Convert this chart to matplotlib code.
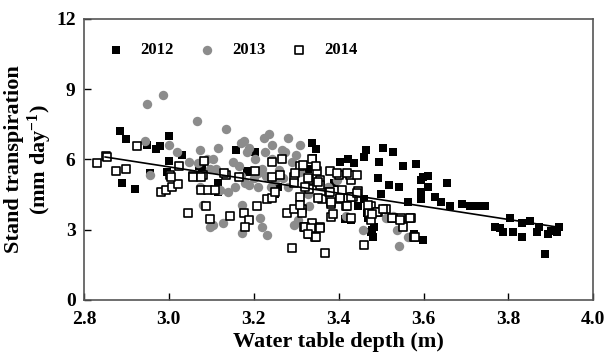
import numpy as np
import matplotlib
matplotlib.use('Agg')
import matplotlib.pyplot as plt

# Stand transpiration vs water table depth, three seasons
x_2012 = [2.884, 2.90, 2.948, 2.97, 2.98, 3.00, 3.00, 3.03, 2.89, 2.92, 2.955, 2.995, 3.07,
          3.159, 3.204, 3.078, 3.117, 3.117, 3.11, 3.185, 3.192, 3.257, 3.25,
          3.337, 3.346, 3.339, 3.327, 3.402, 3.421, 3.437, 3.39,
          3.465, 3.505, 3.528, 3.46, 3.495, 3.551, 3.582, 3.493, 3.598, 3.61,
          3.519, 3.542, 3.593, 3.61, 3.593, 3.656, 3.5, 3.46, 3.563, 3.593, 3.628, 3.64,
          3.663, 3.69, 3.71, 3.446, 3.414, 3.428, 3.47, 3.467, 3.477, 3.481, 3.484, 3.479,
          3.577, 3.598, 3.727, 3.745, 3.803, 3.768, 3.787, 3.81, 3.831, 3.85, 3.831,
          3.873, 3.892, 3.915, 3.92, 3.885, 3.867, 3.78, 3.90]
y_2012 = [7.22, 6.85, 6.6, 6.45, 6.55, 7.0, 5.95, 6.2, 5.0, 4.75, 5.4, 5.45, 5.7,
          6.4, 6.3, 5.6, 5.0, 4.6, 4.7, 5.5, 5.45, 4.8, 4.5,
          6.7, 6.45, 6.05, 5.6, 5.9, 6.0, 5.85, 5.0,
          6.4, 6.5, 6.3, 6.1, 5.9, 5.7, 5.8, 5.2, 5.25, 5.3,
          4.9, 4.8, 5.1, 4.8, 4.6, 5.0, 4.5, 4.3, 4.2, 4.3, 4.4, 4.2,
          4.0, 4.1, 4.0, 4.0, 3.45, 3.4, 3.5, 3.7, 2.9, 2.7, 3.1, 3.0,
          2.8, 2.55, 4.0, 4.0, 3.5, 3.1, 2.9, 2.9, 3.3, 3.35, 2.7,
          3.1, 2.8, 2.9, 3.1, 1.95, 2.9, 3.05, 2.95]

x_2013 = [2.949, 2.987, 3.066, 2.945, 3.0, 3.019, 3.073, 3.047, 3.068, 3.089, 3.098, 2.956,
          3.134, 3.115, 3.178, 3.169, 3.225, 3.236, 3.243, 3.185, 3.227, 3.267, 3.274,
          3.204, 3.243, 3.29, 3.103, 3.11, 3.166, 3.22, 3.26, 3.306, 3.309,
          3.155, 3.14, 3.12, 3.103, 3.127, 3.173, 3.173, 3.215, 3.22, 3.232, 3.295,
          3.19, 3.24, 3.21, 3.28, 3.337, 3.33, 3.376, 3.395, 3.327, 3.304,
          3.073, 3.08, 3.098, 3.458, 3.528, 3.511, 3.537, 3.563, 3.542, 3.418,
          3.2, 3.25, 3.17, 3.28, 3.19, 3.15, 3.21, 3.23, 3.18, 3.27, 3.30, 3.31]
y_2013 = [8.35, 8.75, 7.65, 6.8, 6.6, 6.3, 6.4, 5.9, 5.85, 6.0, 5.6, 5.35,
          7.3, 6.5, 6.8, 6.7, 6.9, 7.1, 6.6, 6.3, 6.3, 6.4, 6.3,
          6.0, 6.0, 5.9, 6.0, 5.6, 5.7, 5.6, 5.55, 5.6, 5.45,
          4.8, 4.6, 4.7, 3.2, 3.3, 4.05, 2.85, 3.5, 3.1, 2.75, 3.2,
          4.9, 4.8, 4.8, 4.8, 3.3, 4.0, 4.8, 5.1, 4.5, 3.4,
          4.8, 4.05, 3.1, 3.0, 3.6, 3.5, 3.0, 2.7, 2.3, 3.6,
          5.2, 5.1, 5.3, 6.9, 6.5, 5.9, 5.4, 5.3, 5.0, 5.2, 6.2, 6.6]

x_2014 = [2.83, 2.852, 2.854, 2.875, 2.898, 2.924, 3.003, 3.024, 3.057, 3.082, 3.08,
          2.982, 2.994, 3.008, 3.022, 3.075, 3.092, 3.087, 3.045, 3.096, 3.005, 3.057, 3.075,
          3.134, 3.166, 3.243, 3.262, 3.295, 3.295, 3.108, 3.232, 3.243, 3.25, 3.208,
          3.143, 3.178, 3.19, 3.18, 3.278, 3.295, 3.313, 3.313, 3.309,
          3.33, 3.33, 3.355, 3.355, 3.36, 3.378, 3.383, 3.402, 3.383, 3.318, 3.337,
          3.33, 3.344, 3.355, 3.29, 3.367,
          3.407, 3.43, 3.446, 3.434, 3.418, 3.477, 3.493, 3.511, 3.528, 3.547, 3.57,
          3.551, 3.577, 3.472, 3.477, 3.43, 3.46, 3.426,
          3.131, 3.204, 3.243, 3.267, 3.309, 3.297, 3.348, 3.379, 3.4, 3.337,
          3.316, 3.346, 3.397, 3.42, 3.443, 3.328, 3.351, 3.32, 3.379, 3.404, 3.428,
          3.443, 3.309, 3.351, 3.381, 3.42, 3.386, 3.47, 3.49, 3.505, 3.526, 3.545,
          3.568, 3.479, 3.32, 3.335, 3.356, 3.327, 3.346, 3.58]
y_2014 = [5.85, 6.15, 6.1, 5.5, 5.6, 6.55, 5.35, 5.7, 5.3, 5.95, 5.35,
          4.6, 4.7, 4.8, 4.95, 4.7, 4.7, 4.0, 3.7, 3.45, 5.25, 5.25, 5.25,
          5.35, 5.25, 5.25, 5.35, 5.25, 5.0, 4.7, 4.3, 4.35, 4.6, 4.0,
          3.6, 3.7, 3.4, 3.1, 3.7, 3.9, 3.9, 3.7, 4.4,
          5.1, 4.75, 5.1, 4.9, 4.3, 4.6, 4.1, 4.3, 3.55, 3.1, 3.3,
          2.8, 2.7, 3.1, 2.2, 2.0,
          4.7, 5.1, 4.65, 4.4, 4.0, 4.0, 3.75, 3.9, 3.5, 3.5, 3.5,
          3.1, 2.7, 3.7, 3.4, 3.5, 2.35, 5.35,
          5.4, 5.5, 5.9, 6.0, 5.7, 5.4, 5.5, 5.5, 5.35, 6.0,
          5.75, 5.7, 5.4, 5.4, 5.35, 5.2, 5.05, 4.8, 4.6, 4.35, 4.4,
          4.55, 4.05, 4.35, 4.2, 4.0, 3.65, 4.05, 3.75, 3.9, 3.5, 3.4,
          3.5, 3.65, 3.1, 3.05, 3.05, 2.8, 2.7, 2.7]

# linear trend over all years
trend_slope = -2.81
trend_intercept = 14.11
trend_range = [2.85, 3.92]

xticks = [2.8, 3.0, 3.2, 3.4, 3.6, 3.8, 4.0]
yticks = [0, 3, 6, 9, 12]

plt.rcParams['font.family'] = ['Liberation Serif', 'DejaVu Serif']
plt.rcParams['font.weight'] = 'bold'
plt.rcParams['mathtext.fontset'] = 'custom'
plt.rcParams['mathtext.rm'] = 'Liberation Serif:bold'
plt.rcParams['mathtext.it'] = 'Liberation Serif:bold'

fig = plt.figure(figsize=(6.08, 3.63), dpi=100)
ax = fig.add_axes([0.138, 0.174, 0.838, 0.774])

ax.scatter(x_2012, y_2012, marker='s', s=36, color='black', linewidths=0, label='2012', zorder=2)
ax.scatter(x_2013, y_2013, marker='o', s=46, color='#8c8c8c', linewidths=0, label='2013', zorder=3)
ax.scatter(x_2014, y_2014, marker='s', s=32, facecolor='white', edgecolor='black',
           linewidths=1.2, label='2014', zorder=4)

tx = np.array(trend_range)
ax.plot(tx, trend_intercept + trend_slope * tx, color='black', lw=1.2, zorder=5)

ax.set_xlim(2.8, 4.0)
ax.set_ylim(0, 12)
ax.set_xticks(xticks)
ax.set_xticklabels([f'{t:.1f}' for t in xticks])
ax.set_yticks(yticks)
ax.tick_params(direction='in', length=5, width=1, labelsize=14, colors='black')
ax.tick_params(axis='x', pad=8)
ax.tick_params(axis='y', pad=6)
for sp in ax.spines.values():
    sp.set_color('#555555')
    sp.set_linewidth(1.2)

ax.set_xlabel('Water table depth (m)', fontsize=16, fontweight='bold', labelpad=3)
ax.set_ylabel('Stand transpiration\n(mm day$^{-1}$)', fontsize=16, fontweight='bold',
              linespacing=1.1)
ax.yaxis.set_label_coords(-0.058, 0.5)

ax.legend(loc='upper left', ncol=3, frameon=False, handletextpad=0.5,
          columnspacing=1.0, markerscale=1.0, bbox_to_anchor=(0.0, 0.97),
          prop={'weight': 'bold', 'size': 12})

fig.savefig('out.png', dpi=100)
